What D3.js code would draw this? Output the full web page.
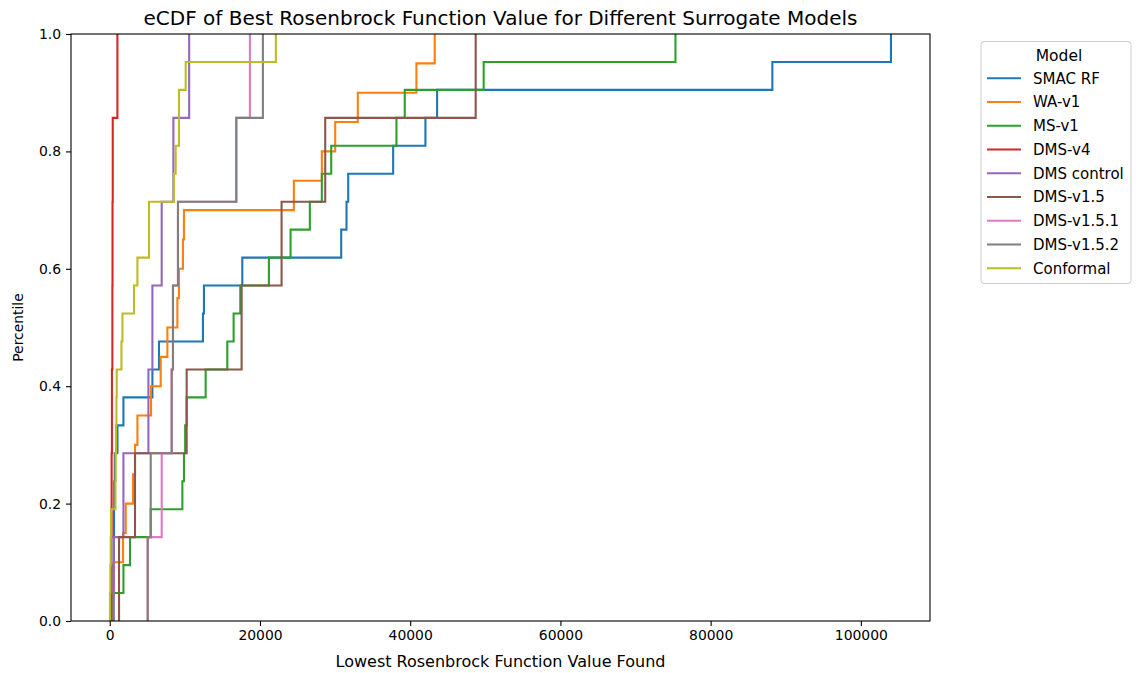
<!DOCTYPE html>
<html>
<head>
<meta charset="utf-8">
<script src="https://cdn.jsdelivr.net/npm/d3@7"></script>
<style>
  body { margin: 0; background: #fff; }
  text { font-family: "DejaVu Sans", sans-serif; fill: #000; }
</style>
</head>
<body>
<div id="chart"></div>
<script>
// Best value found per run, one array per surrogate model
const models = ["SMAC RF", "WA-v1", "MS-v1", "DMS-v4", "DMS control", "DMS-v1.5", "DMS-v1.5.1", "DMS-v1.5.2", "Conformal"];

const smacRF = [266, 466, 532, 572, 599, 665, 1024, 1822, 5679, 6557, 12409, 12542, 17649, 30816, 31521, 31747, 37732, 42028, 43584, 88219, 104006];
const waV1 = [266, 532, 1769, 2128, 3099, 3365, 3684, 5493, 6783, 7674, 9004, 9217, 9749, 9882, 24512, 28236, 30018, 33024, 40831, 43265];
const msV1 = [492, 1822, 2700, 5453, 9669, 9882, 10042, 10241, 12768, 15654, 16492, 17383, 21187, 24073, 26640, 28236, 29486, 38171, 39275, 49782, 75317];
const dmsV4 = [200, 250, 290, 350, 370, 400, 1020];
const dmsControl = [532, 1822, 5147, 5679, 6916, 8472, 10574];
const dmsV15 = [1237, 3365, 10241, 17556, 22876, 28688, 48718];
const dmsV151 = [5054, 6916, 8246, 8419, 9084, 16851, 18660];
const dmsV152 = [5054, 5453, 8246, 8419, 9084, 16851, 20389];
const conformal = [40, 80, 133, 173, 758, 798, 838, 891, 931, 1556, 1689, 3232, 3684, 5227, 5227, 8552, 8778, 9217, 9217, 10108, 22118];

const seriesValues = [smacRF, waV1, msV1, dmsV4, dmsControl, dmsV15, dmsV151, dmsV152, conformal];
const colors = ["#1f77b4", "#ff7f0e", "#2ca02c", "#d62728", "#9467bd", "#8c564b", "#e377c2", "#7f7f7f", "#bcbd22"];

const xTicks = [0, 20000, 40000, 60000, 80000, 100000];
const yTicks = [0, 0.2, 0.4, 0.6, 0.8, 1.0];

const W = 1141, H = 673;
const plot = { left: 71, right: 930, top: 34, bottom: 621 };

const svg = d3.select("#chart").append("svg")
  .attr("width", W)
  .attr("height", H);

// x limits like matplotlib: 5% margin around data
const allVals = seriesValues.flat();
const xMin = d3.min(allVals), xMax = d3.max(allVals);
const pad = (xMax - xMin) * 0.05;

const x = d3.scaleLinear().domain([xMin - pad, xMax + pad]).range([plot.left, plot.right]);
const y = d3.scaleLinear().domain([0, 1]).range([plot.bottom, plot.top]);

svg.append("clipPath").attr("id", "clip")
  .append("rect")
  .attr("x", plot.left).attr("y", plot.top)
  .attr("width", plot.right - plot.left).attr("height", plot.bottom - plot.top);

// eCDF step lines
const line = d3.line()
  .x(d => x(d[0]))
  .y(d => y(d[1]))
  .curve(d3.curveStepAfter);

const lines = svg.append("g").attr("clip-path", "url(#clip)");

seriesValues.forEach((vals, i) => {
  const sorted = vals.slice().sort(d3.ascending);
  const n = sorted.length;
  const pts = [[sorted[0], 0]];
  sorted.forEach((v, k) => pts.push([v, (k + 1) / n]));
  lines.append("path")
    .attr("d", line(pts))
    .attr("fill", "none")
    .attr("stroke", colors[i])
    .attr("stroke-width", 2.1);
});

// Axes
const xAxis = svg.append("g")
  .attr("transform", `translate(0,${plot.bottom})`)
  .call(d3.axisBottom(x).tickValues(xTicks).tickFormat(d3.format("d")).tickSize(5).tickPadding(4));

const yAxis = svg.append("g")
  .attr("transform", `translate(${plot.left},0)`)
  .call(d3.axisLeft(y).tickValues(yTicks).tickFormat(d3.format(".1f")).tickSize(5).tickPadding(5));

[xAxis, yAxis].forEach(a => {
  a.select(".domain").remove();
  a.selectAll(".tick line").attr("stroke", "#000").attr("stroke-width", 1.1);
  a.selectAll(".tick text").style("font-size", "13.9px").attr("fill", "#000");
});

// spines
svg.append("rect")
  .attr("x", plot.left).attr("y", plot.top)
  .attr("width", plot.right - plot.left).attr("height", plot.bottom - plot.top)
  .attr("fill", "none").attr("stroke", "#000").attr("stroke-width", 1.1);

// Title and labels
svg.append("text")
  .attr("x", (plot.left + plot.right) / 2).attr("y", 25)
  .attr("text-anchor", "middle")
  .style("font-size", "20px")
  .text("eCDF of Best Rosenbrock Function Value for Different Surrogate Models");

svg.append("text")
  .attr("x", (plot.left + plot.right) / 2).attr("y", 667)
  .attr("text-anchor", "middle")
  .style("font-size", "16px")
  .text("Lowest Rosenbrock Function Value Found");

svg.append("text")
  .attr("transform", `translate(23,${(plot.top + plot.bottom) / 2}) rotate(-90)`)
  .attr("text-anchor", "middle")
  .style("font-size", "13.9px")
  .text("Percentile");

// Legend
const legend = svg.append("g");
legend.append("rect")
  .attr("x", 981).attr("y", 41.5)
  .attr("width", 150).attr("height", 242)
  .attr("rx", 3)
  .attr("fill", "#fff").attr("fill-opacity", 0.8)
  .attr("stroke", "#ccc").attr("stroke-width", 1);

legend.append("text")
  .attr("x", 1059).attr("y", 61)
  .attr("text-anchor", "middle")
  .style("font-size", "15.5px")
  .text("Model");

models.forEach((m, i) => {
  const ly = 78.3 + i * 23.75;
  legend.append("line")
    .attr("x1", 987).attr("x2", 1021)
    .attr("y1", ly).attr("y2", ly)
    .attr("stroke", colors[i]).attr("stroke-width", 2.1);
  legend.append("text")
    .attr("x", 1033).attr("y", ly + 5.4)
    .style("font-size", "15px")
    .text(m);
});
</script>
</body>
</html>
